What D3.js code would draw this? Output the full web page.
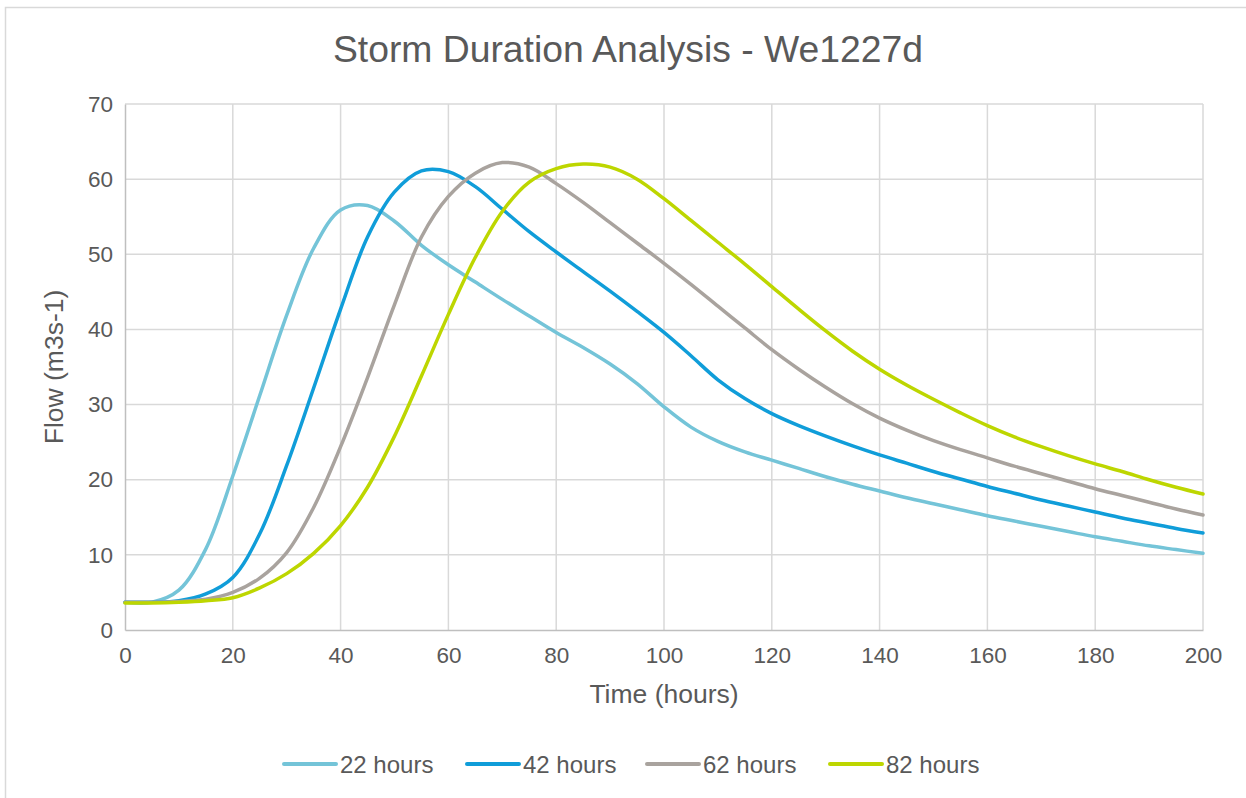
<!DOCTYPE html>
<html>
<head>
<meta charset="utf-8">
<script src="https://cdn.jsdelivr.net/npm/d3@7"></script>
<style>
  html, body { margin: 0; padding: 0; background: #fff; }
  svg { display: block; font-family: "Liberation Sans", Arial, sans-serif; }
</style>
</head>
<body>
<svg id="chart" width="1246" height="798"></svg>
<script>
// Hydrograph samples, every 5 hours from 0 to 200
const hours = d3.range(0, 201, 5);

const flow22 = [3.7, 3.7, 5.3, 10.8, 20.5, 31.2, 41.9, 50.8, 55.9, 56.5, 54.4, 51.2, 48.6, 46.3, 44.0, 41.8,
  39.6, 37.6, 35.4, 32.8, 29.7, 27.0, 25.1, 23.7, 22.6, 21.5, 20.4, 19.4, 18.5, 17.6, 16.8, 16.0, 15.2,
  14.5, 13.8, 13.1, 12.4, 11.8, 11.2, 10.7, 10.2];
const flow42 = [3.7, 3.7, 3.9, 4.8, 7.0, 12.8, 21.9, 32.2, 42.7, 52.3, 58.3, 61.1, 61.0, 59.0, 56.0, 53.0,
  50.3, 47.7, 45.1, 42.4, 39.6, 36.5, 33.3, 30.8, 28.8, 27.2, 25.8, 24.5, 23.3, 22.2, 21.1, 20.1, 19.1,
  18.2, 17.3, 16.5, 15.7, 14.9, 14.2, 13.5, 12.9];
const flow62 = [3.7, 3.7, 3.8, 4.1, 5.0, 6.9, 10.3, 16.3, 24.4, 33.6, 43.3, 52.3, 57.7, 60.8, 62.2, 61.6,
  59.4, 56.9, 54.2, 51.5, 48.8, 46.0, 43.1, 40.2, 37.3, 34.7, 32.3, 30.1, 28.2, 26.6, 25.2, 24.0, 22.9,
  21.8, 20.8, 19.8, 18.8, 17.9, 17.0, 16.1, 15.3];
const flow82 = [3.6, 3.6, 3.7, 3.9, 4.3, 5.6, 7.5, 10.2, 13.9, 19.0, 25.8, 33.8, 42.0, 49.6, 55.7, 59.6,
  61.4, 62.0, 61.6, 60.0, 57.4, 54.5, 51.6, 48.7, 45.7, 42.7, 39.8, 37.1, 34.7, 32.6, 30.7, 28.9, 27.2,
  25.7, 24.4, 23.2, 22.1, 21.1, 20.0, 19.0, 18.1];

const seriesNames = ["22 hours", "42 hours", "62 hours", "82 hours"];
const seriesValues = [flow22, flow42, flow62, flow82];
const seriesColors = ["#74c4d8", "#109dd9", "#a9a39e", "#bdd600"];

const xTicks = d3.range(0, 201, 20);
const yTicks = d3.range(0, 71, 10);

const titleText = "Storm Duration Analysis - We1227d";
const xTitle = "Time (hours)";
const yTitle = "Flow (m3s-1)";

const svg = d3.select("#chart");
const textColor = "#595959";

// chart frame
svg.append("rect")
  .attr("x", 5.5).attr("y", 7.5)
  .attr("width", 1300).attr("height", 900)
  .attr("fill", "#fff").attr("stroke", "#d9d9d9").attr("stroke-width", 1.5);

const plot = { left: 125, right: 1203, top: 104, bottom: 630 };

const x = d3.scaleLinear().domain([0, 200]).range([plot.left, plot.right]);
const y = d3.scaleLinear().domain([0, 70]).range([plot.bottom, plot.top]);

// gridlines
const grid = svg.append("g");
grid.selectAll("line.h").data(yTicks.filter(d => d > 0)).join("line")
  .attr("x1", plot.left).attr("x2", plot.right)
  .attr("y1", d => y(d)).attr("y2", d => y(d))
  .attr("stroke", "#d9d9d9").attr("stroke-width", 1.5);
grid.selectAll("line.v").data(xTicks.filter(d => d > 0)).join("line")
  .attr("x1", d => x(d)).attr("x2", d => x(d))
  .attr("y1", plot.top).attr("y2", plot.bottom)
  .attr("stroke", "#d9d9d9").attr("stroke-width", 1.5);

// axes
const xAxis = svg.append("g")
  .attr("transform", `translate(0,${plot.bottom})`)
  .call(d3.axisBottom(x).tickValues(xTicks).tickSize(0).tickPadding(17));
const yAxis = svg.append("g")
  .attr("transform", `translate(${plot.left},0)`)
  .call(d3.axisLeft(y).tickValues(yTicks).tickSize(0).tickPadding(12));

[xAxis, yAxis].forEach(g => {
  g.select(".domain").attr("stroke", "#bfbfbf").attr("stroke-width", 1.5);
  g.selectAll("text")
    .attr("fill", textColor)
    .style("font-size", "22.5px")
    .style("font-family", "'Liberation Sans', Arial, sans-serif");
});

// flow lines
const line = d3.line()
  .x((d, i) => x(hours[i]))
  .y(d => y(d))
  .curve(d3.curveCatmullRom.alpha(0.5));

svg.append("g").selectAll("path").data(seriesValues).join("path")
  .attr("d", d => line(d))
  .attr("fill", "none")
  .attr("stroke", (d, i) => seriesColors[i])
  .attr("stroke-width", 3.5)
  .attr("stroke-linejoin", "round")
  .attr("stroke-linecap", "round");

// titles
svg.append("text")
  .attr("x", 628).attr("y", 62)
  .attr("text-anchor", "middle")
  .attr("fill", textColor)
  .style("font-size", "37.3px")
  .text(titleText);

svg.append("text")
  .attr("x", 664).attr("y", 703)
  .attr("text-anchor", "middle")
  .attr("fill", textColor)
  .style("font-size", "26.5px")
  .text(xTitle);

svg.append("text")
  .attr("transform", `translate(63,${y(35)}) rotate(-90)`)
  .attr("text-anchor", "middle")
  .attr("fill", textColor)
  .style("font-size", "26.5px")
  .text(yTitle);

// legend
const legendX = [284, 467, 647, 830];
const legend = svg.append("g").selectAll("g").data(seriesNames).join("g")
  .attr("transform", (d, i) => `translate(${legendX[i]},764)`);
legend.append("line")
  .attr("x1", 0).attr("x2", 52).attr("y1", 0).attr("y2", 0)
  .attr("stroke", (d, i) => seriesColors[i])
  .attr("stroke-width", 4).attr("stroke-linecap", "round");
legend.append("text")
  .attr("x", 56).attr("y", 8.5)
  .attr("fill", textColor)
  .style("font-size", "24px")
  .text(d => d);
</script>
</body>
</html>
